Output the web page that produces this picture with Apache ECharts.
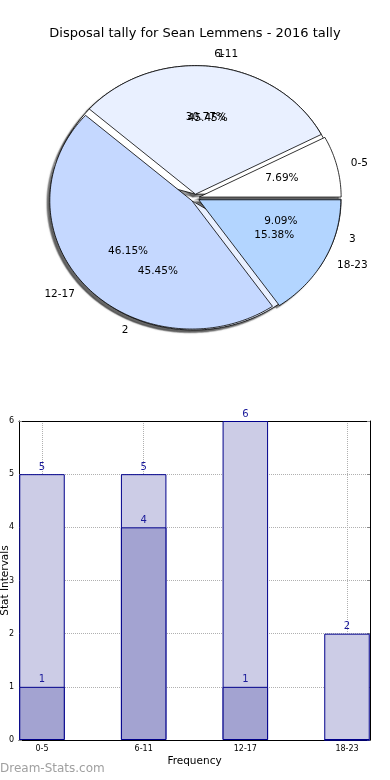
<!DOCTYPE html>
<html><head><meta charset="utf-8">
<script src="https://cdn.jsdelivr.net/npm/echarts@6/dist/echarts.min.js"></script>
<style>html,body{margin:0;padding:0;background:#fff}#c{width:390px;height:780px}</style>
</head><body><div id="c"></div>
<script>
const titleText = 'Disposal tally for Sean Lemmens - 2016 tally';
const pieACategories = ['0-5', '6-11', '12-17', '18-23'];
const pieAValues = [1, 4, 6, 2];
const pieBCategories = ['1', '2', '3'];
const pieBValues = [5, 5, 1];
const barCategories = ['0-5', '6-11', '12-17', '18-23'];
const barLightValues = [5, 5, 6, 2];
const barDarkValues = [1, 4, 1, 0];
const yAxisName = 'Stat Intervals';
const xAxisName = 'Frequency';
const watermark = 'Dream-Stats.com';

const F = 'DejaVu Sans';
const pieColors = ['#ffffff', '#e9f0ff', '#c5d8ff', '#b3d5ff'];
// elliptical pie geometry (the reference axes are not square)
const PIE = { cx: 195, cy: 198, rx: 142, ry: 128.5, explode: 0.03, shadow: 0.02 };

function pieSeries(cats, vals, zBase) {
  const total = vals.reduce((a, b) => a + b, 0);
  const starts = [];
  let acc = 0;
  vals.forEach(v => { starts.push(acc); acc += v; });
  return {
    type: 'custom', coordinateSystem: 'none', silent: true, animation: false,
    data: vals,
    renderItem: function (params, api) {
      const i = params.dataIndex;
      const v = vals[i];
      const a0 = starts[i] / total * Math.PI * 2;
      const a1 = (starts[i] + v) / total * Math.PI * 2;
      const mid = (a0 + a1) / 2;
      const ox = PIE.cx + PIE.explode * PIE.rx * Math.cos(mid);
      const oy = PIE.cy - PIE.explode * PIE.ry * Math.sin(mid);
      const n = Math.max(4, Math.ceil((a1 - a0) / 0.02));
      const pts = [[ox, oy]];
      for (let k = 0; k <= n; k++) {
        const t = a0 + (a1 - a0) * k / n;
        pts.push([ox + PIE.rx * Math.cos(t), oy - PIE.ry * Math.sin(t)]);
      }
      const sdx = -PIE.shadow * PIE.rx, sdy = PIE.shadow * PIE.ry;
      const shadowPts = pts.map(p => [p[0] + sdx, p[1] + sdy]);
      const color = pieColors[i % pieColors.length];
      const lx = ox + 1.1 * PIE.rx * Math.cos(mid);
      const ly = oy - 1.1 * PIE.ry * Math.sin(mid);
      const px = ox + 0.6 * PIE.rx * Math.cos(mid);
      const py = oy - 0.6 * PIE.ry * Math.sin(mid);
      return {
        type: 'group',
        children: [
          { type: 'polygon', z2: 1, shape: { points: shadowPts },
            style: { fill: 'rgba(60,60,60,0.4)', stroke: 'rgba(60,60,60,0.25)', lineWidth: 1.5, shadowBlur: 2, shadowColor: 'rgba(0,0,0,0.35)' } },
          { type: 'polygon', z2: zBase + i, shape: { points: pts },
            style: { fill: color, stroke: '#000', lineWidth: 0.8 } },
          { type: 'text', z2: 100, x: lx, y: ly,
            style: { text: cats[i], fill: '#000', fontFamily: F, fontSize: 10.5, align: Math.cos(mid) >= 0 ? 'left' : 'right', verticalAlign: 'middle' } },
          { type: 'text', z2: 100, x: px, y: py,
            style: { text: (v / total * 100).toFixed(2) + '%', fill: '#000', fontFamily: F, fontSize: 10.5, align: 'center', verticalAlign: 'middle' } }
        ]
      };
    }
  };
}

const axisBlack = { show: true, onZero: false, lineStyle: { color: '#000', width: 1 } };
const dotted = { show: true, lineStyle: { color: '#b0b0b0', type: 'dotted', width: 1 } };

const option = {
  animation: false,
  backgroundColor: '#fff',
  title: { text: titleText, left: 'center', top: 22, textStyle: { fontFamily: F, fontSize: 13, fontWeight: 'normal', color: '#000' } },
  graphic: [{ type: 'text', left: 0, top: 763, style: { text: watermark, fontFamily: F, fontSize: 12, fill: '#a0a0a0' } }],
  grid: [
    { left: 19, right: 20, top: 421, bottom: 40, outerBoundsMode: 'none', containLabel: false },
    { left: 42, right: 43, top: 421, bottom: 40, outerBoundsMode: 'none', containLabel: false }
  ],
  xAxis: [
    { gridIndex: 0, type: 'value', min: 0, max: 1, position: 'bottom', axisLine: axisBlack, axisTick: { show: false }, axisLabel: { show: false }, splitLine: { show: false } },
    { gridIndex: 0, type: 'value', min: 0, max: 1, position: 'top', axisLine: axisBlack, axisTick: { show: false }, axisLabel: { show: false }, splitLine: { show: false } },
    { gridIndex: 1, type: 'category', data: barCategories, boundaryGap: false, axisLine: { show: false, onZero: false },
      axisTick: { show: true, inside: true, length: 3, alignWithLabel: true, lineStyle: { color: '#888' } },
      axisLabel: { fontFamily: F, fontSize: 8, color: '#000', margin: 5, interval: 0 },
      splitLine: Object.assign({ interval: 0 }, dotted),
      name: xAxisName, nameLocation: 'middle', nameGap: 16, nameMoveOverlap: false, nameTextStyle: { fontFamily: F, fontSize: 10.5, color: '#000' } }
  ],
  yAxis: [
    { gridIndex: 0, type: 'value', min: 0, max: 6, interval: 1, position: 'left', axisLine: axisBlack,
      axisTick: { show: true, inside: true, length: 3, lineStyle: { color: '#888' } },
      axisLabel: { fontFamily: F, fontSize: 8, color: '#000', margin: 5 },
      splitLine: dotted,
      name: yAxisName, nameLocation: 'middle', nameGap: 8, nameRotate: 90, nameMoveOverlap: false, nameTextStyle: { fontFamily: F, fontSize: 10.5, color: '#000' } },
    { gridIndex: 0, type: 'value', min: 0, max: 6, interval: 1, position: 'right', axisLine: axisBlack,
      axisTick: { show: true, inside: true, length: 3, lineStyle: { color: '#888' } }, axisLabel: { show: false }, splitLine: { show: false } },
    { gridIndex: 1, type: 'value', min: 0, max: 6, interval: 1, show: false }
  ],
  series: [
    pieSeries(pieBCategories, pieBValues, 10),
    pieSeries(pieACategories, pieAValues, 20),
    { type: 'bar', xAxisIndex: 2, yAxisIndex: 2, data: barLightValues, barWidth: 45.5, barGap: '-100%', z: 3,
      itemStyle: { color: '#ccccE6', borderColor: '#00008b', borderWidth: 1 },
      label: { show: true, position: 'top', distance: 2, fontFamily: F, fontSize: 10, color: '#1a1a9a' } },
    { type: 'bar', xAxisIndex: 2, yAxisIndex: 2, data: barDarkValues, barWidth: 45.5, barGap: '-100%', z: 4,
      itemStyle: { color: '#a3a3d1', borderColor: '#00008b', borderWidth: 1 },
      label: { show: true, position: 'top', distance: 2, fontFamily: F, fontSize: 10, color: '#1a1a9a', formatter: p => p.value ? String(p.value) : '' } }
  ]
};
const chart = echarts.init(document.getElementById('c'), null, { renderer: 'canvas' });
chart.setOption(option);
</script>
</body></html>
